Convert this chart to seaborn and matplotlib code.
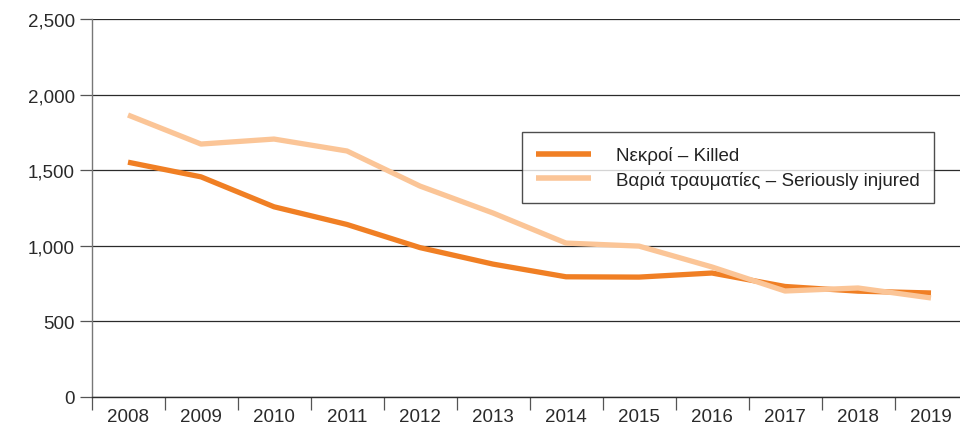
import matplotlib
matplotlib.use("Agg")
import matplotlib.pyplot as plt
import seaborn as sns
import pandas as pd

years = ["2008", "2009", "2010", "2011", "2012", "2013",
         "2014", "2015", "2016", "2017", "2018", "2019"]
killed = [1553, 1456, 1258, 1141, 988, 879, 795, 793, 820, 731, 700, 688]
injured = [1865, 1673, 1706, 1627, 1395, 1217, 1018, 998, 860, 701, 721, 655]
label_killed = "Νεκροί – Killed"
label_injured = "Βαριά τραυματίες – Seriously injured"
yticks = [0, 500, 1000, 1500, 2000, 2500]

sns.set_theme(style="white")
plt.rcParams["font.family"] = ["Liberation Sans", "DejaVu Sans"]
plt.rcParams["lines.solid_capstyle"] = "butt"

df = pd.DataFrame({
    "year": list(range(len(years))) * 2,
    "value": killed + injured,
    "series": [label_killed] * len(years) + [label_injured] * len(years),
})

fig = plt.figure(figsize=(9.6, 4.35), dpi=100)
ax = fig.add_axes([91.5 / 960, 37 / 435, 876 / 960, 378 / 435])

for y in yticks:
    ax.axhline(y, color="#2b2b2b", lw=0.9, zorder=1)

sns.lineplot(data=df, x="year", y="value", hue="series",
             palette={label_killed: "#F07F24", label_injured: "#FBC597"},
             hue_order=[label_killed, label_injured],
             lw=3.8, ax=ax, zorder=3, legend=True)

ax.set_xlim(-0.5, len(years) - 0.5)
ax.set_ylim(0, 2500)
ax.set_xlabel("")
ax.set_ylabel("")

ax.set_yticks(yticks)
ax.set_yticklabels([f"{v:,}" for v in yticks])
ax.set_xticks(range(len(years)))
ax.set_xticklabels(years)
ax.set_xticks([i - 0.5 for i in range(len(years))], minor=True)

ax.tick_params(axis="y", which="major", direction="out", length=9, width=0.9,
               color="#555555", labelsize=13.5, labelcolor="#2a2a2a", pad=3, left=True)
ax.tick_params(axis="x", which="major", length=0, labelsize=13.5,
               labelcolor="#2a2a2a", pad=8)
ax.tick_params(axis="x", which="minor", direction="out", length=9, width=0.9,
               color="#555555", bottom=True)

for side in ["top", "right"]:
    ax.spines[side].set_visible(False)
ax.spines["left"].set_color("#777777")
ax.spines["left"].set_linewidth(1.0)
ax.spines["bottom"].set_color("#2b2b2b")
ax.spines["bottom"].set_linewidth(1.0)

leg = ax.legend(loc="upper left", bbox_to_anchor=(522 / 960, 1 - 133 / 435),
                bbox_transform=fig.transFigure, frameon=True, fancybox=False,
                fontsize=13.5, handlelength=2.95, handletextpad=1.3,
                borderpad=0.75, borderaxespad=0, labelspacing=0.35)
leg.get_frame().set_edgecolor("#222222")
leg.get_frame().set_linewidth(1.0)
for h in leg.get_lines():
    h.set_linewidth(4)
    h.set_solid_capstyle("butt")
for t in leg.get_texts():
    t.set_color("#222222")

fig.savefig("out.png", dpi=100)
